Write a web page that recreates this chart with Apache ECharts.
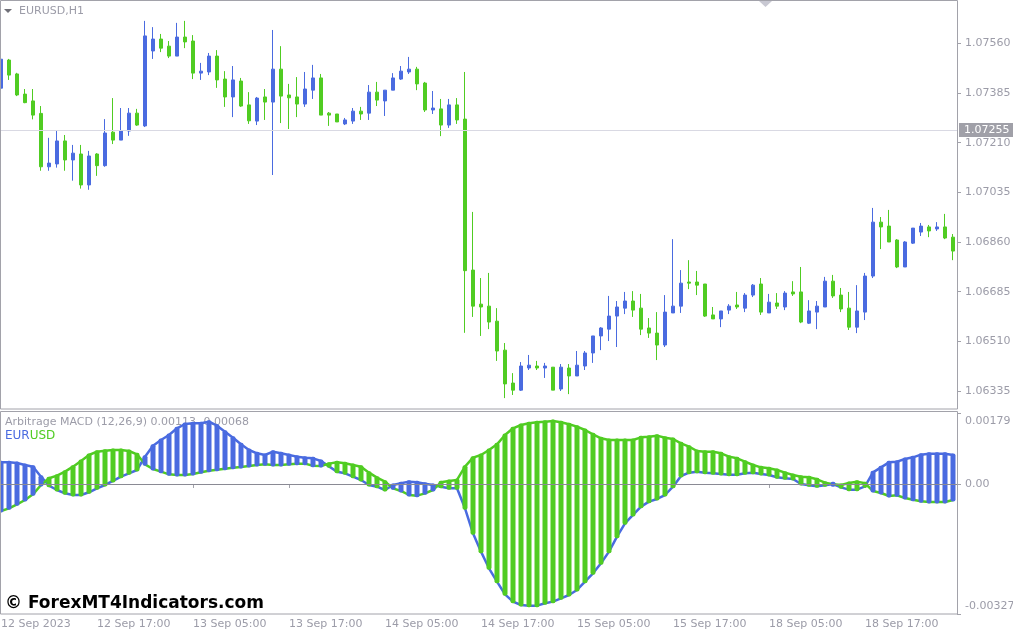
<!DOCTYPE html>
<html><head><meta charset="utf-8">
<script src="https://cdn.jsdelivr.net/npm/echarts@6/dist/echarts.min.js"></script>
<style>html,body{margin:0;padding:0;background:#fff;}#c{width:1013px;height:635px;}</style>
</head><body><div id="c"></div>
<script>
const symbolName = 'EURUSD,H1';
const indicatorTitle = 'Arbitrage MACD (12,26,9) 0.00113 -0.00068';
const tickLabels = ['12 Sep 2023','12 Sep 17:00','13 Sep 05:00','13 Sep 17:00','14 Sep 05:00','14 Sep 17:00','15 Sep 05:00','15 Sep 17:00','18 Sep 05:00','18 Sep 17:00'];
const priceTicks = [1.07560, 1.07385, 1.07210, 1.07035, 1.06860, 1.06685, 1.06510, 1.06335];
const currentPrice = 1.07255;
const macdTicks = [0.00179, 0, -0.00327];

const opens = [1.07402,1.07501,1.07452,1.07381,1.07357,1.07313,1.07125,1.07135,1.07216,1.07149,
1.07170,1.07061,1.07170,1.07129,1.07247,1.07219,1.07251,1.07314,1.07269,1.07533,
1.07575,1.07550,1.07515,1.07582,1.07568,1.07455,1.07459,1.07515,1.07434,1.07371,
1.07427,1.07343,1.07286,1.07371,1.07353,1.07469,1.07378,1.07371,1.07346,1.07395,
1.07438,1.07314,1.07311,1.07276,1.07286,1.07321,1.07314,1.07388,1.07357,1.07395,
1.07434,1.07459,1.07469,1.07420,1.07325,1.07329,1.07272,1.07343,1.07293,1.06761,
1.06641,1.06634,1.06581,1.06479,1.06363,1.06338,1.06416,1.06423,1.06416,1.06419,
1.06342,1.06416,1.06388,1.06423,1.06469,1.06529,1.06553,1.06599,1.06627,1.06652,
1.06627,1.06557,1.06539,1.06497,1.06610,1.06634,1.06719,1.06719,1.06712,1.06603,
1.06589,1.06620,1.06638,1.06627,1.06673,1.06712,1.06610,1.06645,1.06631,1.06684,
1.06684,1.06574,1.06613,1.06631,1.06722,1.06673,1.06627,1.06560,1.06613,1.06740,
1.06930,1.06916,1.06867,1.06772,1.06856,1.06895,1.06913,1.06906,1.06913,1.06877];
const highs = [1.07505,1.07505,1.07456,1.07399,1.07399,1.07339,1.07227,1.07251,1.07237,1.07202,
1.07202,1.07181,1.07173,1.07293,1.07367,1.07332,1.07332,1.07329,1.07639,1.07617,
1.07593,1.07568,1.07632,1.07639,1.07589,1.07491,1.07526,1.07536,1.07462,1.07480,
1.07438,1.07388,1.07371,1.07399,1.07607,1.07550,1.07417,1.07441,1.07459,1.07484,
1.07452,1.07318,1.07311,1.07297,1.07332,1.07336,1.07413,1.07424,1.07395,1.07455,
1.07480,1.07512,1.07477,1.07424,1.07392,1.07364,1.07364,1.07367,1.07459,1.06966,
1.06733,1.06751,1.06627,1.06504,1.06398,1.06437,1.06462,1.06441,1.06434,1.06419,
1.06430,1.06430,1.06476,1.06476,1.06529,1.06560,1.06670,1.06652,1.06684,1.06687,
1.06677,1.06592,1.06613,1.06673,1.06870,1.06761,1.06796,1.06758,1.06712,1.06631,
1.06617,1.06641,1.06684,1.06680,1.06712,1.06733,1.06677,1.06680,1.06687,1.06722,
1.06772,1.06655,1.06652,1.06737,1.06744,1.06698,1.06684,1.06708,1.06751,1.06980,
1.06948,1.06973,1.06870,1.06863,1.06909,1.06927,1.06920,1.06930,1.06959,1.06888];
const lows = [1.07378,1.07431,1.07374,1.07349,1.07292,1.07111,1.07111,1.07122,1.07111,1.07076,
1.07048,1.07044,1.07093,1.07125,1.07205,1.07219,1.07234,1.07269,1.07265,1.07505,
1.07529,1.07508,1.07515,1.07543,1.07434,1.07431,1.07448,1.07403,1.07336,1.07300,
1.07336,1.07276,1.07272,1.07290,1.07096,1.07279,1.07258,1.07300,1.07336,1.07364,
1.07307,1.07269,1.07283,1.07272,1.07276,1.07290,1.07290,1.07339,1.07304,1.07395,
1.07431,1.07452,1.07395,1.07318,1.07311,1.07233,1.07262,1.07276,1.06540,1.06596,
1.06529,1.06553,1.06441,1.06310,1.06321,1.06335,1.06409,1.06409,1.06381,1.06338,
1.06335,1.06324,1.06388,1.06409,1.06434,1.06479,1.06511,1.06490,1.06606,1.06596,
1.06532,1.06522,1.06444,1.06490,1.06610,1.06610,1.06694,1.06673,1.06596,1.06589,
1.06560,1.06606,1.06624,1.06613,1.06666,1.06603,1.06610,1.06624,1.06620,1.06670,
1.06574,1.06571,1.06553,1.06631,1.06663,1.06613,1.06550,1.06539,1.06585,1.06733,
1.06835,1.06860,1.06768,1.06772,1.06853,1.06881,1.06877,1.06899,1.06870,1.06796];
const closes = [1.07504,1.07448,1.07378,1.07351,1.07307,1.07125,1.07138,1.07216,1.07149,1.07173,
1.07061,1.07163,1.07129,1.07244,1.07219,1.07251,1.07314,1.07272,1.07586,1.07575,
1.07543,1.07515,1.07582,1.07565,1.07455,1.07462,1.07515,1.07431,1.07371,1.07431,
1.07339,1.07287,1.07367,1.07353,1.07469,1.07374,1.07368,1.07346,1.07399,1.07438,
1.07307,1.07307,1.07283,1.07290,1.07321,1.07311,1.07388,1.07360,1.07395,1.07438,
1.07462,1.07469,1.07417,1.07325,1.07332,1.07272,1.07343,1.07290,1.06759,1.06634,
1.06631,1.06578,1.06476,1.06360,1.06338,1.06423,1.06426,1.06416,1.06423,1.06338,
1.06419,1.06388,1.06426,1.06469,1.06529,1.06557,1.06599,1.06631,1.06652,1.06620,
1.06553,1.06539,1.06497,1.06613,1.06634,1.06715,1.06715,1.06708,1.06599,1.06589,
1.06617,1.06634,1.06631,1.06673,1.06708,1.06613,1.06648,1.06634,1.06680,1.06677,
1.06578,1.06617,1.06634,1.06722,1.06670,1.06624,1.06560,1.06617,1.06740,1.06930,
1.06913,1.06860,1.06772,1.06860,1.06909,1.06916,1.06899,1.06913,1.06874,1.06828];

const eurLine = [0.000545,0.000545,0.000528,0.000478,0.000436,0.000184,-0.000042,-0.000151,-0.000235,-0.000277,
-0.000277,-0.000209,-0.000109,-0.000025,0.000076,0.000184,0.000268,0.000352,0.000688,0.000964,
0.001107,0.001232,0.001400,0.001509,0.001526,0.001526,0.001568,0.001467,0.001316,0.001165,
0.000998,0.000855,0.000771,0.000729,0.000813,0.000771,0.000729,0.000688,0.000663,0.000646,
0.000579,0.000444,0.000310,0.000268,0.000184,0.000101,-0.000025,-0.000067,-0.000151,-0.000025,
0.000017,0.000059,0.000042,0.000008,-0.000025,-0.000067,-0.000109,-0.000109,-0.000612,-0.001241,
-0.001702,-0.002121,-0.002456,-0.002775,-0.002959,-0.003043,-0.003060,-0.003060,-0.003001,-0.002959,
-0.002875,-0.002792,-0.002666,-0.002456,-0.002247,-0.001995,-0.001702,-0.001324,-0.000989,-0.000779,
-0.000570,-0.000444,-0.000377,-0.000277,-0.000067,0.000201,0.000285,0.000310,0.000285,0.000268,
0.000251,0.000235,0.000235,0.000268,0.000285,0.000251,0.000226,0.000168,0.000143,0.000126,
0.000000,-0.000033,-0.000059,-0.000033,0.000000,-0.000084,-0.000142,-0.000142,-0.000059,0.000293,
0.000419,0.000545,0.000562,0.000629,0.000671,0.000738,0.000763,0.000763,0.000763,0.000729];
const usdLine = [-0.000679,-0.000612,-0.000511,-0.000402,-0.000260,-0.000025,0.000143,0.000210,0.000310,0.000436,
0.000579,0.000729,0.000813,0.000839,0.000855,0.000855,0.000830,0.000746,0.000495,0.000377,
0.000310,0.000243,0.000226,0.000226,0.000251,0.000293,0.000335,0.000361,0.000386,0.000411,
0.000428,0.000453,0.000478,0.000495,0.000478,0.000478,0.000495,0.000512,0.000512,0.000460,
0.000453,0.000512,0.000545,0.000520,0.000478,0.000436,0.000285,0.000159,0.000059,-0.000109,
-0.000176,-0.000277,-0.000293,-0.000235,-0.000151,0.000042,0.000076,0.000101,0.000436,0.000663,
0.000729,0.000855,0.000998,0.001232,0.001400,0.001484,0.001526,0.001551,0.001568,0.001585,
0.001551,0.001501,0.001442,0.001358,0.001249,0.001149,0.001107,0.001107,0.001107,0.001107,
0.001174,0.001191,0.001216,0.001165,0.001132,0.001023,0.000939,0.000830,0.000813,0.000813,
0.000771,0.000688,0.000646,0.000562,0.000478,0.000419,0.000394,0.000352,0.000285,0.000226,
0.000184,0.000168,0.000118,0.000034,-0.000008,-0.000025,0.000025,0.000059,0.000017,-0.000176,
-0.000226,-0.000302,-0.000285,-0.000352,-0.000394,-0.000436,-0.000453,-0.000453,-0.000453,-0.000402];

const BLUE = '#4a6be0', GREEN = '#50cc22', FRAME = '#a2a2aa', TXT = '#9c9ca8';
const FONT = '"DejaVu Sans", sans-serif';
const categories = opens.map((_, i) => String(i));
const candleData = opens.map((o, i) => [o, closes[i], lows[i], highs[i]]);
const histData = eurLine.map((e, i) => [i, e, usdLine[i]]);

const chart = echarts.init(document.getElementById('c'), null, {renderer: 'canvas'});
chart.setOption({
  animation: false,
  backgroundColor: '#ffffff',
  grid: [
    {left: -3, right: 56, top: 0, height: 409, containLabel: false, outerBoundsMode: 'none'},
    {left: -3, right: 56, top: 411, height: 203, containLabel: false, outerBoundsMode: 'none'}
  ],
  xAxis: [
    {type: 'category', gridIndex: 0, data: categories, boundaryGap: true,
     axisLine: {show: false}, axisTick: {show: false}, axisLabel: {show: false}, splitLine: {show: false}},
    {type: 'category', gridIndex: 1, data: categories, boundaryGap: true,
     axisLine: {show: false}, splitLine: {show: false},
     axisTick: {show: true, alignWithLabel: true, interval: (i) => i % 12 === 0, length: 4, lineStyle: {color: FRAME}},
     axisLabel: {interval: (i) => i % 12 === 0, formatter: (v, i) => tickLabels[i / 12] || '',
                 align: 'left', margin: 5, color: TXT, fontFamily: FONT, fontSize: 11, hideOverlap: false}}
  ],
  yAxis: [
    {type: 'value', gridIndex: 0, position: 'right', min: 1.062716, max: 1.077126,
     axisLine: {show: false}, splitLine: {show: false},
     axisTick: {show: true, customValues: priceTicks, length: 4, lineStyle: {color: FRAME}},
     axisLabel: {customValues: priceTicks, formatter: (v) => v.toFixed(5), color: TXT, fontFamily: FONT, fontSize: 11, margin: 8}},
    {type: 'value', gridIndex: 1, position: 'right', min: -0.00327, max: 0.001836,
     axisLine: {show: false}, splitLine: {show: false},
     axisTick: {show: true, customValues: macdTicks, length: 4, lineStyle: {color: FRAME}},
     axisLabel: {customValues: macdTicks, margin: 8, color: TXT, fontFamily: FONT, fontSize: 11,
       formatter: (v) => v > 0 ? '{t|' + v.toFixed(5) + '}' : (v < 0 ? '{b|' + v.toFixed(5) + '}' : '0.00'),
       rich: {t: {padding: [16, 0, 0, 0], color: TXT, fontFamily: FONT, fontSize: 11},
              b: {padding: [0, 0, 15, 0], color: TXT, fontFamily: FONT, fontSize: 11}}}}
  ],
  series: [
    {type: 'line', name: 'price', xAxisIndex: 0, yAxisIndex: 0, data: [], z: 1,
     markLine: {silent: true, precision: 5, symbol: ['none', 'none'],
       lineStyle: {color: '#d9d9e3', width: 1, type: 'solid'},
       label: {position: 'end', formatter: currentPrice.toFixed(5), backgroundColor: '#a0a0a8', color: '#ffffff',
               padding: [2, 6, 1, 5], distance: 2, fontFamily: FONT, fontSize: 11},
       data: [{yAxis: currentPrice}]}},
    {type: 'candlestick', xAxisIndex: 0, yAxisIndex: 0, data: candleData, barWidth: 4, z: 3,
     itemStyle: {color: BLUE, color0: GREEN, borderColor: BLUE, borderColor0: GREEN, borderWidth: 1}},
    {type: 'line', name: 'EUR', xAxisIndex: 1, yAxisIndex: 1, data: eurLine, showSymbol: false, z: 2,
     lineStyle: {color: BLUE, width: 2.5},
     markLine: {silent: true, precision: 6, symbol: ['none', 'none'], lineStyle: {color: '#8a8a94', width: 1, type: 'solid'},
       label: {show: false}, data: [{yAxis: 0}]}},
    {type: 'line', name: 'USD', xAxisIndex: 1, yAxisIndex: 1, data: usdLine, showSymbol: false, z: 2,
     lineStyle: {color: GREEN, width: 2.5}},
    {type: 'custom', xAxisIndex: 1, yAxisIndex: 1, data: histData, z: 4,
     encode: {x: 0, y: [1, 2]},
     renderItem: function (params, api) {
       const i = api.value(0), e = api.value(1), u = api.value(2);
       const p1 = api.coord([i, Math.max(e, u)]);
       const p2 = api.coord([i, Math.min(e, u)]);
       const w = 5;
       const h = Math.max(p2[1] - p1[1] + 3, 5);
       const yc = (p1[1] + p2[1]) / 2;
       return {type: 'rect', shape: {x: p1[0] - w / 2, y: yc - h / 2, width: w, height: h, r: 2},
               style: {fill: e >= u ? BLUE : GREEN}};
     }}
  ],
  graphic: [
    {type: 'rect', z: 50, shape: {x: 0.5, y: 0.5, width: 957, height: 408.5}, style: {fill: 'none', stroke: FRAME, lineWidth: 1}},
    {type: 'rect', z: 50, shape: {x: 0.5, y: 411.5, width: 957, height: 202.5}, style: {fill: 'none', stroke: FRAME, lineWidth: 1}},
    {type: 'polygon', z: 50, shape: {points: [[4, 9], [12, 9], [8, 13]]}, style: {fill: '#707078'}},
    {type: 'polygon', z: 50, shape: {points: [[759, 1], [772, 1], [765.5, 7]]}, style: {fill: '#c8c8d2'}},
    {type: 'text', z: 50, x: 19, y: 11, style: {text: symbolName, fill: TXT, font: '11px ' + FONT, verticalAlign: 'middle'}},
    {type: 'text', z: 0, x: 5, y: 422, style: {text: indicatorTitle, fill: TXT, font: '11px ' + FONT, verticalAlign: 'middle'}},
    {type: 'text', z: 0, x: 5, y: 436, style: {text: '{e|EUR}{u|USD}', font: '12px ' + FONT, verticalAlign: 'middle',
      rich: {e: {fill: BLUE, font: '12px ' + FONT}, u: {fill: GREEN, font: '12px ' + FONT}}}},
    {type: 'text', z: 60, x: 5, y: 604, style: {text: '\u00A9 ForexMT4Indicators.com', fill: '#000000', font: 'bold 17px ' + FONT, verticalAlign: 'middle'}}
  ]
});
</script></body></html>
